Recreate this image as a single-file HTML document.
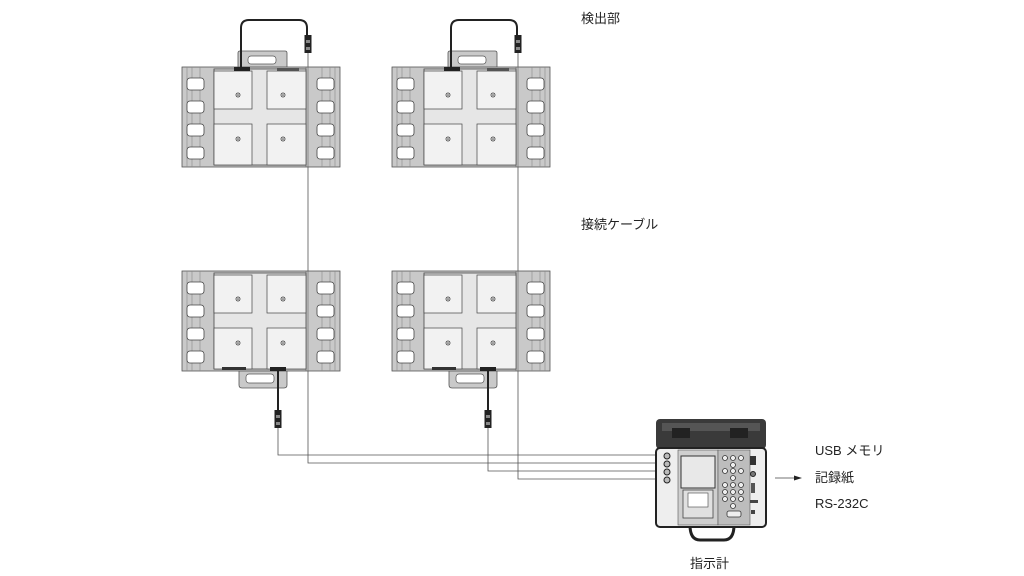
<!DOCTYPE html>
<html><head><meta charset="utf-8"><style>
html,body{margin:0;padding:0;background:#fff;}
svg{display:block}
text{font-family:"Liberation Sans","Noto Sans CJK JP",sans-serif;font-size:13px;fill:#222}
</style></head><body>
<svg width="1024" height="576" viewBox="0 0 1024 576" xmlns="http://www.w3.org/2000/svg">
<defs>
<g id="pad">
  <rect x="0" y="0" width="158" height="100" fill="#c9c9c9" stroke="#555" stroke-width="0.8"/>
  <line x1="5" y1="0" x2="5" y2="100" stroke="#888" stroke-width="0.6"/>
  <line x1="10" y1="0" x2="10" y2="100" stroke="#888" stroke-width="0.6"/>
  <line x1="18" y1="0" x2="18" y2="100" stroke="#888" stroke-width="0.6"/>
  <line x1="140" y1="0" x2="140" y2="100" stroke="#888" stroke-width="0.6"/>
  <line x1="148" y1="0" x2="148" y2="100" stroke="#888" stroke-width="0.6"/>
  <line x1="153" y1="0" x2="153" y2="100" stroke="#888" stroke-width="0.6"/>
  <line x1="124" y1="0" x2="124" y2="100" stroke="#666" stroke-width="0.6"/>
  <line x1="126" y1="0" x2="126" y2="100" stroke="#666" stroke-width="0.6"/>
  <rect x="32" y="2" width="92" height="96" fill="#e6e6e6" stroke="#444" stroke-width="0.8"/>
  <g fill="#f2f2f2" stroke="#444" stroke-width="0.7">
    <rect x="32" y="4" width="38" height="38"/><rect x="85" y="4" width="39" height="38"/>
    <rect x="32" y="57" width="38" height="41"/><rect x="85" y="57" width="39" height="41"/>
  </g>
  <g fill="#fff" stroke="#444" stroke-width="0.8">
    <rect x="5" y="11" width="17" height="12" rx="3"/><rect x="5" y="34" width="17" height="12" rx="3"/>
    <rect x="5" y="57" width="17" height="12" rx="3"/><rect x="5" y="80" width="17" height="12" rx="3"/>
    <rect x="135" y="11" width="17" height="12" rx="3"/><rect x="135" y="34" width="17" height="12" rx="3"/>
    <rect x="135" y="57" width="17" height="12" rx="3"/><rect x="135" y="80" width="17" height="12" rx="3"/>
  </g>
  <g fill="#fff" stroke="#333" stroke-width="0.8">
    <circle cx="56" cy="28" r="2"/><circle cx="101" cy="28" r="2"/><circle cx="56" cy="72" r="2"/><circle cx="101" cy="72" r="2"/>
  </g>
  <g fill="#333"><circle cx="56" cy="28" r="0.8"/><circle cx="101" cy="28" r="0.8"/><circle cx="56" cy="72" r="0.8"/><circle cx="101" cy="72" r="0.8"/></g>
</g>
<g id="conn">
  <rect x="-3.5" y="0" width="7" height="18" fill="#222"/>
  <rect x="-2" y="5" width="4" height="3" fill="#888"/>
  <rect x="-2" y="12" width="4" height="3" fill="#888"/>
</g>
</defs>

<!-- connecting lines -->
<g fill="none" stroke="#555" stroke-width="0.8">
  <polyline points="308,50 308,463 660,463"/>
  <polyline points="518,50 518,479 660,479"/>
  <polyline points="278,428 278,455 660,455"/>
  <polyline points="488,428 488,471 660,471"/>
</g>

<!-- top pads -->
<g>
  <path d="M238,68 L238,53 Q238,51 240,51 L285,51 Q287,51 287,53 L287,68 Z" fill="#c9c9c9" stroke="#555" stroke-width="0.8"/>
  <rect x="248" y="56" width="28" height="8" rx="3" fill="#fff" stroke="#555" stroke-width="0.7"/>
  <use href="#pad" x="182" y="67"/>
  <rect x="234" y="67" width="16" height="4" fill="#222"/>
  <rect x="277" y="68" width="22" height="3" fill="#555"/>
  <path d="M241,67 L241,28 Q241,20 249,20 L299,20 Q307,20 307,28 L307,36" fill="none" stroke="#222" stroke-width="2"/>
  <use href="#conn" x="308" y="35"/>
</g>
<g>
  <path d="M448,68 L448,53 Q448,51 450,51 L495,51 Q497,51 497,53 L497,68 Z" fill="#c9c9c9" stroke="#555" stroke-width="0.8"/>
  <rect x="458" y="56" width="28" height="8" rx="3" fill="#fff" stroke="#555" stroke-width="0.7"/>
  <use href="#pad" x="392" y="67"/>
  <rect x="444" y="67" width="16" height="4" fill="#222"/>
  <rect x="487" y="68" width="22" height="3" fill="#555"/>
  <path d="M451,67 L451,28 Q451,20 459,20 L509,20 Q517,20 517,28 L517,36" fill="none" stroke="#222" stroke-width="2"/>
  <use href="#conn" x="518" y="35"/>
</g>

<!-- bottom pads -->
<g>
  <path d="M239,370 L239,385 Q239,388 242,388 L284,388 Q287,388 287,385 L287,370 Z" fill="#c9c9c9" stroke="#555" stroke-width="0.8"/>
  <rect x="246" y="374" width="28" height="9" rx="3" fill="#fff" stroke="#555" stroke-width="0.7"/>
  <use href="#pad" x="182" y="271"/>
  <rect x="222" y="367" width="24" height="3" fill="#333"/>
  <rect x="270" y="367" width="16" height="4" fill="#222"/>
  <line x1="278" y1="370" x2="278" y2="412" stroke="#222" stroke-width="2"/>
  <use href="#conn" x="278" y="410"/>
</g>
<g>
  <path d="M449,370 L449,385 Q449,388 452,388 L494,388 Q497,388 497,385 L497,370 Z" fill="#c9c9c9" stroke="#555" stroke-width="0.8"/>
  <rect x="456" y="374" width="28" height="9" rx="3" fill="#fff" stroke="#555" stroke-width="0.7"/>
  <use href="#pad" x="392" y="271"/>
  <rect x="432" y="367" width="24" height="3" fill="#333"/>
  <rect x="480" y="367" width="16" height="4" fill="#222"/>
  <line x1="488" y1="370" x2="488" y2="412" stroke="#222" stroke-width="2"/>
  <use href="#conn" x="488" y="410"/>
</g>

<!-- instrument -->
<g>
  <rect x="656" y="419" width="110" height="30" rx="4" fill="#3a3a3a"/>
  <rect x="662" y="423" width="98" height="8" fill="#555"/>
  <rect x="672" y="428" width="18" height="10" fill="#222"/>
  <rect x="730" y="428" width="18" height="10" fill="#222"/>
  <path d="M690,525 Q690,540 700,540 L724,540 Q734,540 734,525" fill="none" stroke="#222" stroke-width="3"/>
  <rect x="656" y="448" width="110" height="79" rx="4" fill="#eee" stroke="#222" stroke-width="2"/>
  <rect x="678" y="450" width="40" height="75" fill="#cfcfcf" stroke="#555" stroke-width="0.6"/>
  <rect x="681" y="456" width="34" height="32" fill="#e8e8e8" stroke="#333" stroke-width="1"/>
  <rect x="683" y="490" width="30" height="28" fill="#e0e0e0" stroke="#444" stroke-width="0.8"/>
  <rect x="688" y="493" width="20" height="14" fill="#fff" stroke="#444" stroke-width="0.6"/>
  <rect x="718" y="450" width="32" height="75" fill="#bdbdbd" stroke="#555" stroke-width="0.6"/>
  <g fill="#eee" stroke="#333" stroke-width="0.8">
    <circle cx="725" cy="458" r="2.5"/><circle cx="733" cy="458" r="2.5"/><circle cx="741" cy="458" r="2.5"/>
    <circle cx="733" cy="465" r="2.5"/>
    <circle cx="725" cy="471" r="2.5"/><circle cx="733" cy="471" r="2.5"/><circle cx="741" cy="471" r="2.5"/>
    <circle cx="733" cy="478" r="2.5"/>
    <circle cx="725" cy="485" r="2.5"/><circle cx="733" cy="485" r="2.5"/><circle cx="741" cy="485" r="2.5"/>
    <circle cx="725" cy="492" r="2.5"/><circle cx="733" cy="492" r="2.5"/><circle cx="741" cy="492" r="2.5"/>
    <circle cx="725" cy="499" r="2.5"/><circle cx="733" cy="499" r="2.5"/><circle cx="741" cy="499" r="2.5"/>
    <circle cx="733" cy="506" r="2.5"/>
    <rect x="727" y="511" width="14" height="6" rx="2"/>
  </g>
  <g fill="#bbb" stroke="#222" stroke-width="1">
    <circle cx="667" cy="456" r="3"/><circle cx="667" cy="464" r="3"/><circle cx="667" cy="472" r="3"/><circle cx="667" cy="480" r="3"/>
  </g>
  <rect x="750" y="456" width="6" height="9" fill="#333"/>
  <circle cx="753" cy="474" r="2.5" fill="#777" stroke="#222"/>
  <rect x="751" y="483" width="4" height="10" fill="#555"/>
  <rect x="750" y="500" width="8" height="3" fill="#444"/>
  <rect x="751" y="510" width="4" height="4" fill="#444"/>
</g>

<!-- arrow -->
<line x1="775" y1="478" x2="796" y2="478" stroke="#444" stroke-width="0.8"/>
<polygon points="802,478 794,475.5 794,480.5" fill="#222"/>

<!-- labels -->
<text x="581" y="23">検出部</text>
<text x="581" y="229">接続ケーブル</text>
<text x="815" y="455">USB メモリ</text>
<text x="815" y="482">記録紙</text>
<text x="815" y="508">RS-232C</text>
<text x="690" y="568">指示計</text>
</svg>
</body></html>
